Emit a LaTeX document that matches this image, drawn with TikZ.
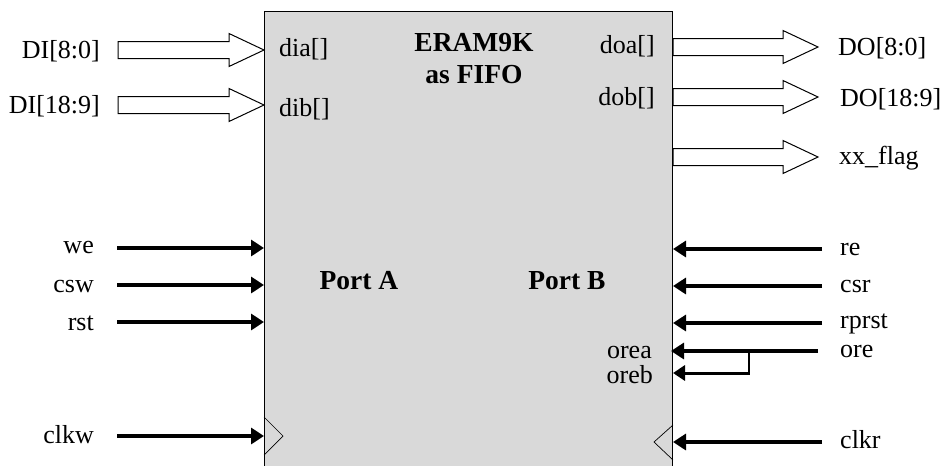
\documentclass[tikz,border=0pt]{standalone}
\usepackage{fontspec}
\setmainfont{Liberation Serif}
\usetikzlibrary{arrows.meta,calc}
\definecolor{boxgray}{RGB}{217,217,217}
\newcommand\busarrow[2]{%
  \draw[bus] let \p1=(#1), \p2=(#2) in
    (\x1,\y1-8.5pt) -- (\x2-35pt,\y1-8.5pt) -- (\x2-35pt,\y1-16.5pt) -- (\x2,\y1)
    -- (\x2-35pt,\y1+16.5pt) -- (\x2-35pt,\y1+8.5pt) -- (\x1,\y1+8.5pt) -- cycle;}
\begin{document}
\begin{tikzpicture}[x=1pt,y=-1pt,
  lbl/.style={font=\fontsize{26}{28}\selectfont, inner sep=0pt},
  blbl/.style={font=\fontsize{27.5}{32}\selectfont\bfseries, inner sep=0pt, align=center},
  sig/.style={line width=3.8pt, -{Triangle[length=13pt,width=16pt]}},
  thinsig/.style={line width=3pt, -{Triangle[length=12pt,width=15pt]}},
  bus/.style={draw=black, line width=1pt, fill=white},
  clk/.style={line width=0.7pt}]
\useasboundingbox (0,0) rectangle (943,466);
\clip (0,0) rectangle (943,466);
% main block
\node[draw, line width=1pt, fill=boxgray, minimum width=408pt, minimum height=480pt,
      anchor=north west, inner sep=0pt] (ram) at (264,11) {};
% titles
\node[blbl] (title) at (474,59) {ERAM9K\\as FIFO};
\node[blbl, anchor=base] (porta) at (359,289) {Port A};
\node[blbl, anchor=base] (portb) at (567,289) {Port B};
% inner port labels
\node[lbl, anchor=base west] (dia) at (279,56) {dia[]};
\node[lbl, anchor=base west] (dib) at (279,116) {dib[]};
\node[lbl, anchor=base east] (doa) at (655,53) {doa[]};
\node[lbl, anchor=base east] (dob) at (655,105) {dob[]};
\node[lbl, anchor=base east] (orea) at (652,358) {orea};
\node[lbl, anchor=base east] (oreb) at (653,383) {oreb};
% outer labels left
\node[lbl, anchor=base east] (DI0) at (100,58) {DI[8:0]};
\node[lbl, anchor=base east] (DI1) at (100,113) {DI[18:9]};
\node[lbl, anchor=base east] (we) at (94,253) {we};
\node[lbl, anchor=base east] (csw) at (94,292) {csw};
\node[lbl, anchor=base east] (rst) at (94,330) {rst};
\node[lbl, anchor=base east] (clkw) at (94,443) {clkw};
% outer labels right
\node[lbl, anchor=base west] (DO0) at (838,55) {DO[8:0]};
\node[lbl, anchor=base west] (DO1) at (840,106) {DO[18:9]};
\node[lbl, anchor=base west] (flag) at (839,164) {xx\_flag};
\node[lbl, anchor=base west] (re) at (840,255) {re};
\node[lbl, anchor=base west] (csr) at (840,292) {csr};
\node[lbl, anchor=base west] (rprst) at (840,328) {rprst};
\node[lbl, anchor=base west] (ore) at (840,357) {ore};
\node[lbl, anchor=base west] (clkr) at (840,448) {clkr};
% bus arrows
\coordinate (DI0s) at (118,50);
\coordinate (DI1s) at (118,105);
\coordinate (DO0s) at (ram.east |- 0,47);
\coordinate (DO1s) at (ram.east |- 0,97);
\coordinate (flags) at (ram.east |- 0,157);
\coordinate (DO0t) at (818,47);
\coordinate (DO1t) at (818,97);
\coordinate (flagt) at (818,157);
\busarrow{DI0s}{ram.west |- DI0s}
\busarrow{DI1s}{ram.west |- DI1s}
\busarrow{DO0s}{DO0t}
\busarrow{DO1s}{DO1t}
\busarrow{flags}{flagt}
% single-bit inputs, left
\coordinate (wes) at (117,248);
\coordinate (csws) at (117,285);
\coordinate (rsts) at (117,322);
\coordinate (clkws) at (117,436);
\draw[sig] (wes) -- (ram.west |- wes);
\draw[sig] (csws) -- (ram.west |- csws);
\draw[sig] (rsts) -- (ram.west |- rsts);
\draw[sig] (clkws) -- (ram.west |- clkws);
% single-bit inputs, right
\coordinate (res) at (822,249);
\coordinate (csrs) at (822,286);
\coordinate (rprsts) at (822,323);
\coordinate (ores) at (818,351);
\coordinate (orebr) at (749,351);
\coordinate (clkrs) at (822,442);
\draw[sig] (res) -- (ram.east |- res);
\draw[sig] (csrs) -- (ram.east |- csrs);
\draw[sig] (rprsts) -- (ram.east |- rprsts);
\draw[sig] (ores) -- ([xshift=-2pt]ram.east |- ores);
\draw[line width=1.5pt] (orebr) -- (749,373);
\draw[thinsig] (749.75,373) -- (ram.east |- 0,373);
\draw[sig] (clkrs) -- (ram.east |- clkrs);
% clock triangles
\draw[clk] (ram.west |- 0,417) -- (283,436) -- (ram.west |- 0,455);
\draw[clk] (ram.east |- 0,425) -- (654,442) -- (ram.east |- 0,460);
\end{tikzpicture}
\end{document}
